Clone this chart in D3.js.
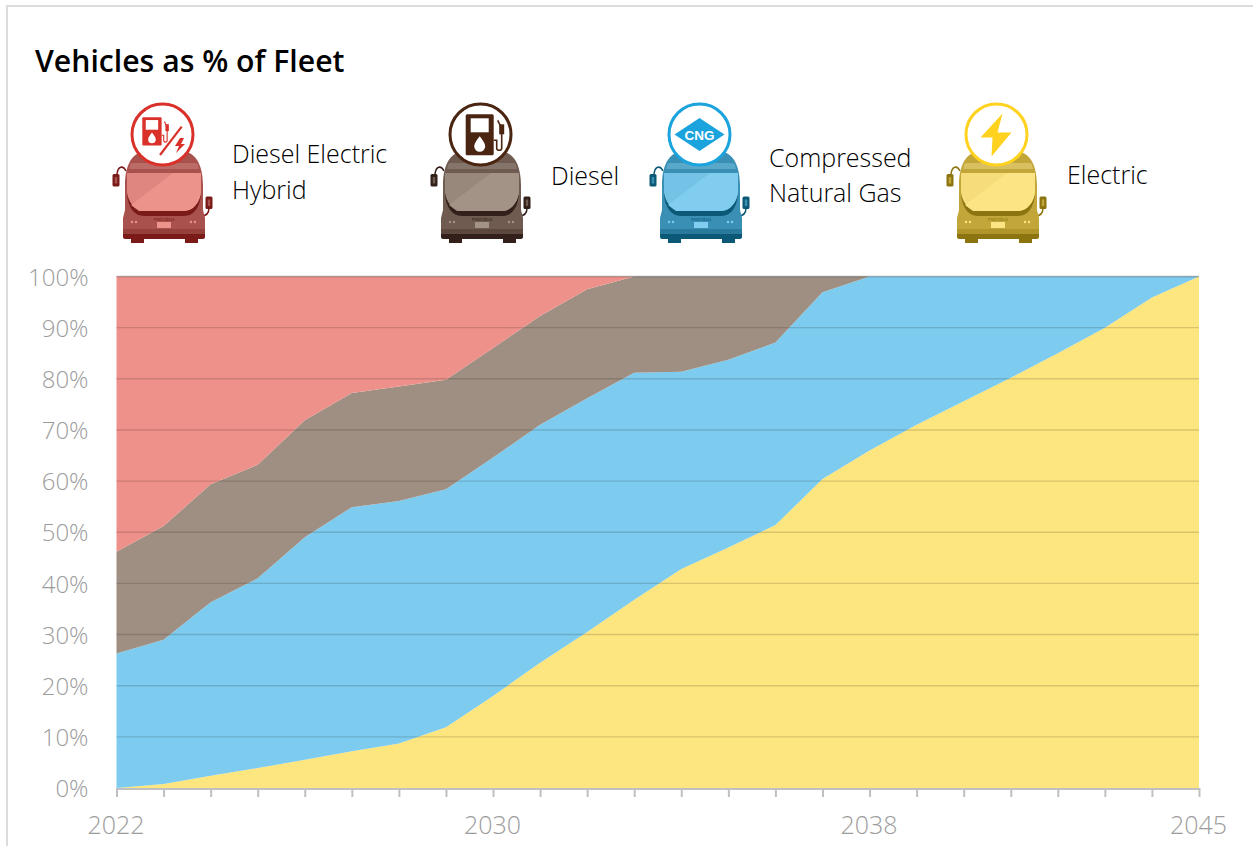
<!DOCTYPE html>
<html><head><meta charset="utf-8">
<script src="https://cdn.jsdelivr.net/npm/d3@7"></script>
<style>
html,body{margin:0;padding:0;background:#fff}
svg{display:block}
text{font-family:"Open Sans","Noto Sans",sans-serif}
</style></head><body><svg id="c" width="1253" height="846"></svg>
<script>
const title = "Vehicles as % of Fleet";
const years = [2022,2023,2024,2025,2026,2027,2028,2029,2030,2031,2032,2033,2034,2035,2036,2037,2038,2039,2040,2041,2042,2043,2044,2045];
const xLabels = [2022,2030,2038,2045];
const yTicks = [0,10,20,30,40,50,60,70,80,90,100];
const electric = [0,0.8,2.4,3.9,5.5,7.2,8.7,11.9,18,24.5,30.5,36.8,42.8,47,51.4,60.4,66,71,75.6,80.2,85,90,95.9,100];
const cng = [26.3,28.2,33.9,37.1,43.5,47.7,47.4,46.5,46.6,46.5,45.7,44.4,38.6,36.7,35.7,36.5,34,29,24.4,19.8,15,10,4.1,0];
const diesel = [19.9,22.2,23.1,22.2,22.9,22.3,22.4,21.4,21.4,21.3,21.3,18.8,18.6,16.3,12.9,3.1,0,0,0,0,0,0,0,0];
const hybrid = [53.8,48.8,40.6,36.8,28.1,22.8,21.5,20.2,14,7.7,2.5,0,0,0,0,0,0,0,0,0,0,0,0,0];
const seriesKeys = ["electric","cng","diesel","hybrid"];
const seriesValues = {electric,cng,diesel,hybrid};
const seriesColors = {electric:"#FDE57F",cng:"#7DCBEE",diesel:"#9F8E82",hybrid:"#ED918A"};

const legendLabels = {hybrid:["Diesel Electric","Hybrid"],diesel:["Diesel"],cng:["Compressed","Natural Gas"],electric:["Electric"]};
const busPalette = {
  hybrid:{ring:"#D9302A",body:"#A9514D",band:"#BC6C66",dark:"#7A1B19",lower:"#96403C",glass:"#E08680",shine:"#EC938C"},
  diesel:{ring:"#4A2511",body:"#6F5B50",band:"#85746A",dark:"#33201A",lower:"#5C483E",glass:"#98877B",shine:"#A39286"},
  cng:{ring:"#1BA3DD",body:"#3A8FB5",band:"#58A8CA",dark:"#0B5877",lower:"#2A7A9D",glass:"#74C3E6",shine:"#80CDEF"},
  electric:{ring:"#FFD21F",body:"#C2A63A",band:"#D8C060",dark:"#8C7410",lower:"#B0962A",glass:"#F6DC7A",shine:"#FCE484"}
};

const svg = d3.select("#c");
const W = 1253, H = 846;
const m = {left:116.5, right:1199, top:276.5, bottom:788};

svg.append("path").attr("d",`M7,${H}V6H${W}`).attr("fill","none").attr("stroke","#dcdcdc").attr("stroke-width",2);
svg.append("text").attr("x",35).attr("y",72).attr("font-size",30.2).attr("font-weight",600).attr("fill","#000").text(title);

const x = d3.scaleLinear().domain(d3.extent(years)).range([m.left,m.right]);
const y = d3.scaleLinear().domain([0,100]).range([m.bottom,m.top]);

const rows = years.map((yr,i)=>{const r={year:yr};seriesKeys.forEach(k=>r[k]=seriesValues[k][i]);return r;});
const stack = d3.stack().keys(seriesKeys)(rows);
const area = d3.area().x(d=>x(d.data.year)).y0(d=>y(d[0])).y1(d=>y(d[1]));
svg.append("g").selectAll("path").data(stack).join("path")
  .attr("d",area).attr("fill",d=>seriesColors[d.key]);

const yAxis = svg.append("g").attr("transform",`translate(${m.left},0)`)
  .call(d3.axisLeft(y).tickValues(yTicks).tickFormat(d=>d+"%").tickSize(0).tickPadding(28));
yAxis.select(".domain").remove();
yAxis.selectAll("text").attr("font-size",24).attr("fill","#9c9c9c").attr("font-family",'"Open Sans"').attr("font-weight",300).attr("dy","0.36em");
svg.append("g").selectAll("line").data(yTicks.filter(d=>d>0)).join("line")
  .attr("x1",m.left).attr("x2",m.right).attr("y1",d=>y(d)).attr("y2",d=>y(d))
  .attr("stroke","#000").attr("stroke-opacity",d=>d==100?0.28:0.14).attr("stroke-width",1.4);

const xAxis = svg.append("g").attr("transform",`translate(0,${m.bottom})`)
  .call(d3.axisBottom(x).tickValues(years).tickFormat(d=>xLabels.includes(d)?d:"").tickSize(9).tickPadding(19));
xAxis.select(".domain").attr("stroke","#c0c0c0").attr("stroke-width",2).attr("d",`M${m.left},1H${m.right}`);
xAxis.selectAll("line").attr("stroke","#c0c0c0").attr("stroke-width",2);
xAxis.selectAll("text").attr("font-size",25).attr("fill","#9c9c9c").attr("font-family",'"Open Sans"').attr("font-weight",300).attr("dx",-1);

function bus(g,p){
  g.append("path").attr("d","M-38,21 C-41,15 -46,16 -47,24").attr("fill","none").attr("stroke",p.dark).attr("stroke-width",1.5);
  g.append("rect").attr("x",-51.5).attr("y",24).attr("width",7).attr("height",12.5).attr("rx",1.5).attr("fill",p.dark);
  g.append("rect").attr("x",-49.2).attr("y",27).attr("width",2.4).attr("height",6.5).attr("fill",p.body);
  g.append("path").attr("d","M37,66 C43,66 45,63 45,58").attr("fill","none").attr("stroke",p.dark).attr("stroke-width",1.5);
  g.append("rect").attr("x",41.5).attr("y",46.5).attr("width",7).attr("height",12.5).attr("rx",1.5).attr("fill",p.dark);
  g.append("rect").attr("x",43.8).attr("y",49.5).attr("width",2.4).attr("height",6.5).attr("fill",p.body);
  // body
  g.append("path").attr("d","M-39,36 C-39,12 -30,1 -16,1 L16,1 C30,1 39,12 39,36 L39,60 L41,68 L41,86 Q41,89 38,89 L-38,89 Q-41,89 -41,86 L-41,68 L-39,60 Z").attr("fill",p.body);
  g.append("path").attr("d","M-34,15 Q-34,13 -31,13 L31,13 Q34,13 34,15 L35,19 L-35,19 Z").attr("fill",p.band);
  // lower body
  g.append("path").attr("d","M-41,79 L41,79 L41,86 Q41,89 38,89 L-38,89 Q-41,89 -41,86 Z").attr("fill",p.lower);
  g.append("path").attr("d","M-41,84 L41,84 L41,86 Q41,89 38,89 L-38,89 Q-41,89 -41,86 Z").attr("fill",p.dark);
  g.append("rect").attr("x",-33).attr("y",88).attr("width",13).attr("height",5).attr("fill",p.dark);
  g.append("rect").attr("x",21).attr("y",88).attr("width",13).attr("height",5).attr("fill",p.dark);
  // dark strip under the windscreen
  g.append("path").attr("d","M-37,44 C-36,57 -30,66 -20,66 L20,66 C30,66 36,57 37,44 Z").attr("fill",p.dark);
  // windscreen
  g.append("path").attr("d","M-37,23 L37,23 L37,42 C36,52 29,61 20,61 L-20,61 C-29,61 -36,52 -37,42 Z").attr("fill",p.glass);
  g.append("path").attr("d","M-33,55 L9,23 L37,23 L37,42 C36,52 29,61 20,61 L-25,61 Z").attr("fill",p.shine);
  // plate, lights, wordmark
  g.append("rect").attr("x",-7).attr("y",72).attr("width",14).attr("height",6).attr("fill",p.shine);
  [-32,-28,27,31].forEach(cx=>g.append("circle").attr("cx",cx).attr("cy",72).attr("r",1.2).attr("fill",p.shine));
  g.append("text").attr("x",0).attr("y",71).attr("text-anchor","middle").attr("font-size",4.5).attr("fill",p.dark).text("metrobus");
  // ring
  g.append("circle").attr("cx",-1.5).attr("cy",-15.5).attr("r",30.5).attr("fill","#fff").attr("stroke",p.ring).attr("stroke-width",3);
}
function pump(g,c,tx,ty,s){
  const q=g.append("g").attr("transform",`translate(${tx},${ty}) scale(${s})`);
  q.append("rect").attr("x",0).attr("y",0).attr("width",28).attr("height",41).attr("rx",1.5).attr("fill",c);
  q.append("rect").attr("x",5).attr("y",4).attr("width",18).attr("height",14).attr("fill","#fff");
  q.append("path").attr("d","M14,22 C17,26 19.5,29 19.5,32 A5.5,5.5 0 0 1 8.5,32 C8.5,29 11,26 14,22Z").attr("fill","#fff");
  q.append("path").attr("d","M28,26 L31,26 L31,34 Q31,36 33.5,36 Q36,36 36,34 L36,14 L32,6").attr("fill","none").attr("stroke",c).attr("stroke-width",1.6);
  q.append("rect").attr("x",33.5).attr("y",10).attr("width",5).attr("height",10).attr("fill",c);
}
const bolt = "M6,-21 L-16,3 L-4,3 L-5,22 L15,-2 L1,-2 Z";

const busCentres = {hybrid:164,diesel:482,cng:701,electric:998};
const labelX = {hybrid:232,diesel:551,cng:769,electric:1067};
const labelY = {hybrid:[163,199],diesel:[185],cng:[167,202],electric:[184]};
["hybrid","diesel","cng","electric"].forEach(k=>{
  const p = busPalette[k];
  const g = svg.append("g").attr("transform",`translate(${busCentres[k]},150)`);
  bus(g,p);
  if(k==="hybrid"){
    pump(g,p.ring,-21.7,-32.7,0.69);
    g.append("path").attr("d","M-4,5 L17.7,-23.3").attr("stroke",p.ring).attr("stroke-width",2.2);
    g.append("path").attr("d","M16,-12 L11,-4 L15,-4 L12,3 L21,-6 L17,-6 L20,-12Z").attr("fill",p.ring);
  } else if(k==="diesel"){
    pump(g,p.ring,-16.3,-35.7,1);
  } else if(k==="cng"){
    g.append("path").attr("d","M-1.5,-32 L23.5,-15.5 L-1.5,1 L-26.5,-15.5 Z").attr("fill",p.ring);
    g.append("text").attr("x",-1.5).attr("y",-10.5).attr("text-anchor","middle").attr("font-size",13.5).attr("font-weight",700)
      .attr("fill","#fff").style("font-family",'"Liberation Sans"').text("CNG");
  } else {
    g.append("path").attr("d",bolt).attr("transform","translate(-1.5,-15.5)").attr("fill",p.ring);
  }
  legendLabels[k].forEach((t,i)=>{
    svg.append("text").attr("x",labelX[k]).attr("y",labelY[k][i]).attr("font-size",25).attr("font-weight",300).attr("fill","#000").text(t);
  });
});
</script></body></html>
